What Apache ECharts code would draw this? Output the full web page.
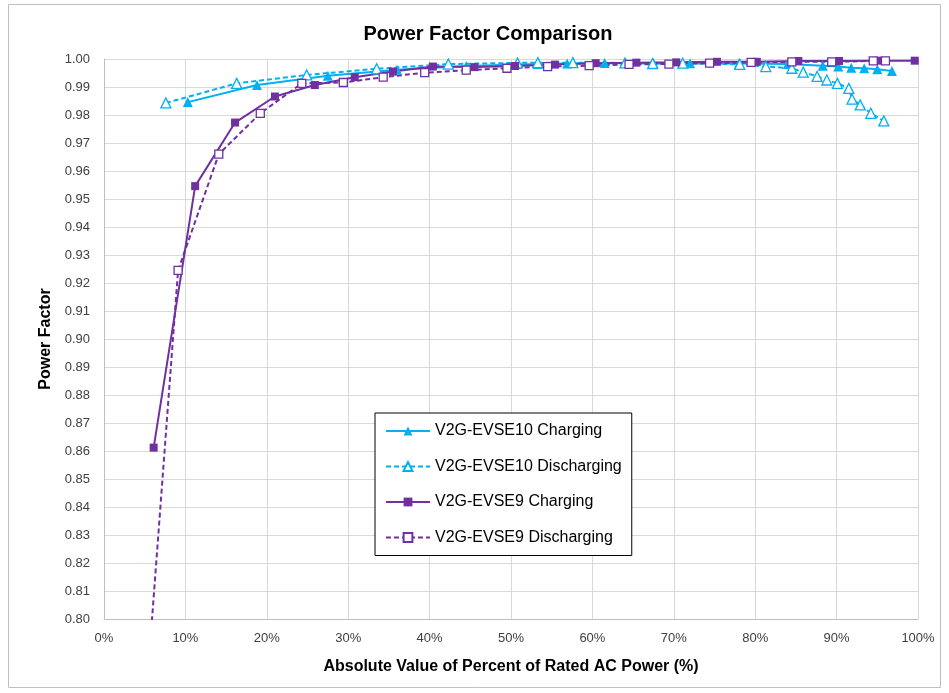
<!DOCTYPE html>
<html>
<head>
<meta charset="utf-8">
<script src="https://cdn.jsdelivr.net/npm/echarts@6/dist/echarts.min.js"></script>
<style>
  html, body { margin: 0; padding: 0; background: #fff; }
  #chart { width: 949px; height: 693px; }
</style>
</head>
<body>
<div id="chart"></div>
<script>
// percent of rated AC power, power factor
const evse10ChgX = [10.3, 18.8, 27.5, 36.0, 44.5, 53.3, 56.9, 61.5, 67.5, 72.0, 78.0, 84.0, 88.3, 90.2, 91.8, 93.4, 95.0, 96.8];
const evse10ChgY = [0.9846, 0.9907, 0.9940, 0.9962, 0.9975, 0.9982, 0.9984, 0.9986, 0.9985, 0.9985, 0.9984, 0.9982, 0.9976, 0.9973, 0.9969, 0.9967, 0.9963, 0.9957];

const evse10DisX = [7.6, 16.3, 24.9, 33.5, 42.3, 50.8, 53.3, 57.6, 64.0, 67.4, 71.1, 78.1, 81.3, 84.5, 85.9, 87.6, 88.8, 90.1, 91.5, 91.9, 92.9, 94.2, 95.8];
const evse10DisY = [0.9843, 0.9913, 0.9943, 0.9965, 0.9982, 0.9986, 0.9987, 0.9987, 0.9986, 0.9984, 0.9985, 0.9981, 0.9973, 0.9967, 0.9953, 0.9938, 0.9925, 0.9913, 0.9895, 0.9857, 0.9836, 0.9806, 0.9779];

const evse9ChgX = [6.1, 11.2, 16.1, 21.0, 25.9, 30.8, 35.5, 40.4, 45.5, 50.5, 55.4, 60.4, 65.4, 70.3, 75.3, 80.2, 85.3, 90.3, 95.2, 99.6];
const evse9ChgY = [0.8612, 0.9546, 0.9773, 0.9866, 0.9907, 0.9935, 0.9955, 0.9973, 0.9971, 0.9975, 0.9980, 0.9985, 0.9987, 0.9988, 0.9990, 0.9990, 0.9993, 0.9993, 0.9994, 0.9994];

const evse9DisX = [5.0, 9.1, 14.1, 19.2, 24.3, 29.4, 34.3, 39.4, 44.5, 49.5, 54.5, 59.6, 64.5, 69.4, 74.4, 79.5, 84.5, 89.4, 94.5, 96.0];
const evse9DisY = [0.765, 0.9245, 0.9660, 0.9806, 0.9913, 0.9916, 0.9935, 0.9951, 0.9960, 0.9967, 0.9973, 0.9976, 0.9981, 0.9982, 0.9985, 0.9988, 0.9990, 0.9990, 0.9993, 0.9993];

const CYAN = '#00b0f0';
const PURPLE = '#7030a0';
const FONT = 'Liberation Sans';

const zip = (xs, ys) => xs.map((x, i) => [x, ys[i]]);

const chart = echarts.init(document.getElementById('chart'));

chart.setOption({
    animation: false,
    textStyle: { fontFamily: FONT },
    title: {
        text: 'Power Factor Comparison',
        left: 483, top: 19, textAlign: 'center',
        textStyle: { fontSize: 20, fontWeight: 'bold', color: '#000', fontFamily: FONT }
    },
    graphic: [{
        type: 'rect',
        shape: { x: 8.5, y: 4.5, width: 932, height: 683 },
        style: { fill: 'none', stroke: '#bfbfbf', lineWidth: 1 },
        silent: true
    }],
    grid: { left: 104, right: 31, top: 59, bottom: 74 },
    legend: {
        orient: 'vertical',
        left: 375, top: 413,
        width: 255,
        padding: [10, 10, 10, 10],
        itemGap: 19.5,
        itemWidth: 44, itemHeight: 11,
        backgroundColor: '#fff',
        borderColor: '#000', borderWidth: 1,
        textStyle: { fontSize: 16, color: '#000', fontFamily: FONT },
        data: ['V2G-EVSE10 Charging', 'V2G-EVSE10 Discharging', 'V2G-EVSE9 Charging', 'V2G-EVSE9 Discharging']
    },
    xAxis: {
        type: 'value', min: 0, max: 100, interval: 10,
        name: 'Absolute Value of Percent of Rated AC Power (%)',
        nameLocation: 'middle', nameGap: 40,
        nameTextStyle: { fontSize: 16, fontWeight: 'bold', color: '#000' },
        axisLine: { show: true, lineStyle: { color: '#bfbfbf' } },
        axisTick: { show: false },
        axisLabel: { formatter: '{value}%', fontSize: 13, color: '#404040', margin: 13 },
        splitLine: { show: true, lineStyle: { color: '#d9d9d9', width: 1 } }
    },
    yAxis: {
        type: 'value', min: 0.8, max: 1.0, interval: 0.01,
        name: 'Power Factor',
        nameLocation: 'middle', nameGap: 50,
        nameTextStyle: { fontSize: 16, fontWeight: 'bold', color: '#000' },
        axisLine: { show: true, lineStyle: { color: '#bfbfbf' } },
        axisTick: { show: false },
        axisLabel: { formatter: v => v.toFixed(2), fontSize: 13, color: '#404040', margin: 14 },
        splitLine: { show: true, lineStyle: { color: '#d9d9d9', width: 1 } }
    },
    series: [
        {
            name: 'V2G-EVSE10 Charging', type: 'line',
            data: zip(evse10ChgX, evse10ChgY),
            symbol: 'triangle', symbolSize: 10,
            lineStyle: { color: CYAN, width: 2 },
            itemStyle: { color: CYAN }
        },
        {
            name: 'V2G-EVSE10 Discharging', type: 'line',
            data: zip(evse10DisX, evse10DisY),
            symbol: 'triangle', symbolSize: 10,
            lineStyle: { color: CYAN, width: 2, type: [5, 3] },
            itemStyle: { color: '#fff', borderColor: CYAN, borderWidth: 1.3 }
        },
        {
            name: 'V2G-EVSE9 Charging', type: 'line',
            data: zip(evse9ChgX, evse9ChgY),
            symbol: 'rect', symbolSize: 8,
            lineStyle: { color: PURPLE, width: 2 },
            itemStyle: { color: PURPLE }
        },
        {
            name: 'V2G-EVSE9 Discharging', type: 'line',
            data: zip(evse9DisX, evse9DisY),
            symbol: 'rect', symbolSize: 8,
            lineStyle: { color: PURPLE, width: 2, type: [5, 3] },
            itemStyle: { color: '#fff', borderColor: PURPLE, borderWidth: 1.3 }
        }
    ]
});
</script>
</body>
</html>
